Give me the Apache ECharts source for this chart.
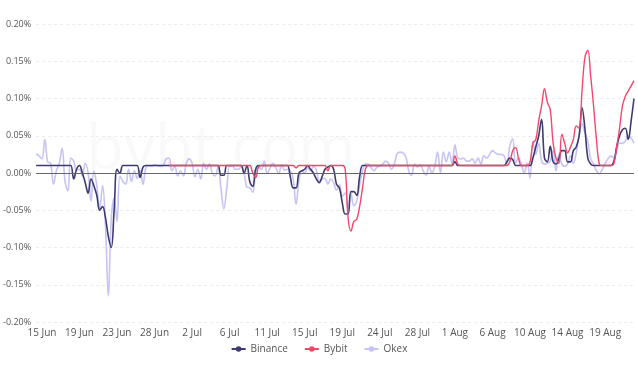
<!DOCTYPE html>
<html>
<head>
<meta charset="utf-8">
<script src="https://cdn.jsdelivr.net/npm/echarts@6/dist/echarts.min.js"></script>
<style>html,body{margin:0;padding:0;background:#fff}#chart{width:638px;height:365px}</style>
</head>
<body>
<div id="chart"></div>
<script>
// Funding rate (%) every 8 hours, first point 14 Jun 08:00
var startTime = Date.UTC(2021, 5, 14, 8, 0, 0);
var stepHours = 8;
var pointCount = 208;
var monthNames = ['Jan','Feb','Mar','Apr','May','Jun','Jul','Aug','Sep','Oct','Nov','Dec'];
var seriesNames = ['Binance', 'Bybit', 'Okex'];
var yTicks = [-0.20, -0.15, -0.10, -0.05, 0.00, 0.05, 0.10, 0.15, 0.20];

var binance = [
0.01,0.01,0.01,0.01,0.01,0.01,0.01,0.01,0.01,0.01,
0.01,0.01,0.01,-0.008,0.005,0.01,0.0,-0.013,-0.027,-0.008,
-0.017,-0.03,-0.05,-0.045,-0.06,-0.085,-0.1,-0.05,0.005,0.0,
0.01,0.01,0.01,0.01,0.01,0.01,-0.006,0.008,0.01,0.01,
0.01,0.01,0.01,0.01,0.01,0.01,0.01,0.01,0.01,0.01,
0.01,0.01,0.01,0.01,0.01,0.01,0.01,0.01,0.01,0.01,
0.01,0.01,0.01,0.01,-0.003,-0.003,0.01,0.01,0.01,0.01,
0.01,0.01,0.0,0.01,-0.012,-0.018,0.005,0.01,0.01,0.01,
0.01,0.01,0.01,0.01,0.01,0.01,0.01,0.01,-0.005,-0.02,
-0.02,0.0,0.003,0.005,0.01,0.005,0.0,-0.008,-0.013,-0.005,
0.005,0.008,0.01,0.005,-0.015,-0.02,-0.04,-0.055,-0.055,-0.025,
-0.025,-0.03,-0.005,0.01,0.01,0.01,0.01,0.01,0.01,0.01,
0.01,0.01,0.01,0.01,0.01,0.01,0.01,0.01,0.01,0.01,
0.01,0.01,0.01,0.01,0.01,0.01,0.01,0.01,0.01,0.01,
0.01,0.01,0.01,0.01,0.01,0.015,0.01,0.01,0.01,0.01,
0.01,0.01,0.01,0.01,0.01,0.01,0.01,0.01,0.01,0.01,
0.01,0.01,0.01,0.015,0.02,0.018,0.01,0.01,0.01,0.01,
0.01,0.01,0.02,0.035,0.05,0.072,0.02,0.015,0.036,0.015,
0.012,0.02,0.03,0.03,0.015,0.015,0.03,0.035,0.05,0.088,
0.06,0.02,0.012,0.01,0.01,0.01,0.01,0.01,0.01,0.01,
0.015,0.035,0.05,0.058,0.06,0.045,0.07,0.1
];

var bybit = [
null,null,null,null,null,null,null,null,null,null,
null,null,null,null,null,null,null,null,null,null,
null,null,null,null,null,null,null,null,null,null,
null,null,null,null,null,null,null,null,null,null,
null,null,null,null,null,null,0.01,0.01,0.01,0.01,
0.01,0.01,0.01,0.01,0.01,0.01,0.01,0.01,0.01,0.01,
0.01,0.01,0.01,0.01,0.01,0.01,0.01,0.01,0.01,0.01,
0.01,0.01,0.01,0.01,0.01,0.0,-0.006,0.008,0.01,0.01,
0.01,0.01,0.01,0.01,0.01,0.01,0.01,0.01,0.01,0.01,
0.007,0.01,0.01,0.01,0.01,0.01,0.01,0.01,0.01,0.01,
0.01,0.003,0.01,0.01,0.01,0.01,0.01,0.005,-0.06,-0.078,
-0.065,-0.062,-0.045,-0.02,0.005,0.01,0.01,0.01,0.01,0.01,
0.01,0.01,0.01,0.01,0.01,0.01,0.01,0.01,0.01,0.01,
0.01,0.01,0.01,0.01,0.01,0.01,0.01,0.01,0.01,0.01,
0.01,0.01,0.01,0.01,0.01,0.023,0.012,0.01,0.01,0.01,
0.01,0.01,0.01,0.01,0.01,0.01,0.01,0.01,0.01,0.01,
0.01,0.01,0.01,0.01,0.015,0.03,0.034,0.02,0.01,0.01,
0.01,0.015,0.04,0.045,0.07,0.09,0.113,0.095,0.085,0.04,
0.02,0.013,0.052,0.04,0.027,0.035,0.045,0.063,0.06,0.11,
0.155,0.165,0.13,0.09,0.045,0.012,0.01,0.01,0.01,0.01,
0.012,0.035,0.06,0.09,0.103,0.11,0.117,0.124
];

var okex = [
0.0255,0.023,0.019,0.045,0.015,0.013,-0.015,0.003,0.013,0.033,
-0.011,-0.024,0.02,0.016,0.003,0.005,-0.004,0.013,0.0,-0.038,
0.003,-0.017,-0.048,-0.017,-0.07,-0.165,-0.062,-0.034,-0.065,-0.004,
-0.011,-0.015,0.005,-0.011,0.003,-0.007,0.003,-0.015,0.007,0.01,
0.009,0.011,0.01,0.009,0.01,0.019,0.02,0.003,0.009,-0.004,
0.003,-0.004,0.013,0.019,0.013,-0.005,0.005,-0.008,0.013,0.005,
0.012,0.0,-0.004,0.009,-0.021,-0.048,-0.021,0.009,0.009,0.005,
0.005,0.008,-0.001,-0.019,-0.02,-0.026,0.0,0.008,0.005,0.016,
-0.001,0.007,0.013,0.007,-0.001,0.011,0.004,0.005,0.003,-0.008,
-0.042,-0.01,0.003,0.0,0.007,0.003,0.009,0.004,-0.011,-0.008,
-0.007,-0.015,-0.008,-0.013,-0.023,-0.016,-0.031,-0.027,-0.048,-0.027,
-0.044,-0.038,-0.017,0.003,0.012,0.012,0.007,0.003,0.008,0.009,
0.012,0.016,0.013,0.005,0.012,0.026,0.028,0.027,0.022,0.003,
-0.003,0.012,0.008,0.011,0.003,-0.003,0.009,0.0,0.009,0.028,
0.0,0.028,0.015,0.028,0.012,0.038,0.02,0.019,0.02,0.016,
0.016,0.019,0.013,0.02,0.012,0.023,0.02,0.025,0.03,0.027,
0.025,0.025,0.023,0.013,0.036,0.046,0.013,0.02,0.012,0.0,
0.013,-0.007,0.043,0.025,0.04,0.016,0.012,0.013,0.016,0.03,
0.003,0.025,0.012,0.009,0.012,0.023,0.013,0.027,0.05,0.066,
0.054,0.043,0.019,0.012,0.003,-0.001,0.005,0.013,0.019,0.023,
0.02,0.03,0.04,0.04,0.043,0.05,0.047,0.04
];

var categories = [];
for (var i = 0; i < pointCount; i++) {
  var d = new Date(startTime + i * stepHours * 3600 * 1000);
  categories.push(d.getUTCDate() + ' ' + monthNames[d.getUTCMonth()] + ' ' + ('0' + d.getUTCHours()).slice(-2) + ':00');
}

var chart = echarts.init(document.getElementById('chart'), null, {renderer: 'canvas'});
var font = '"Open Sans", "Noto Sans", sans-serif';
chart.setOption({
  animation: false,
  backgroundColor: '#ffffff',
  textStyle: {fontFamily: font},
  grid: {left: 33, right: 4, top: 24, bottom: 43, containLabel: false},
  graphic: [{
    type: 'text', left: 86, top: 120, z: -10, silent: true,
    style: {text: 'bybt.com', fontSize: 62, fontWeight: 'normal', fontFamily: font, fill: 'rgba(0,0,0,0.022)'}
  }],
  legend: {
    data: seriesNames, bottom: 6, left: 'center', itemGap: 16, itemWidth: 14, itemHeight: 7,
    textStyle: {fontSize: 10, color: '#555', fontFamily: font}
  },
  xAxis: {
    type: 'category', data: categories, boundaryGap: false,
    axisLine: {show: false}, axisTick: {show: false}, splitLine: {show: false},
    axisLabel: {
      interval: function (idx) { return idx % 13 === 2; },
      formatter: function (v) { return v.split(' ').slice(0, 2).join(' '); },
      color: '#555', fontSize: 10, margin: 6, fontFamily: font
    }
  },
  yAxis: {
    type: 'value', min: yTicks[0], max: yTicks[yTicks.length - 1], interval: 0.05,
    axisLine: {show: false}, axisTick: {show: false},
    splitLine: {show: true, lineStyle: {color: '#ebebeb', type: [3, 3], width: 1}},
    axisLabel: {formatter: function (v) { return v.toFixed(2) + '%'; }, color: '#555', fontSize: 9, margin: 5, fontFamily: font}
  },
  series: [
    {
      name: 'Binance', type: 'line', data: binance, smooth: 0.4, showSymbol: false, symbol: 'circle', symbolSize: 5, z: 3,
      color: '#3d3a70', lineStyle: {width: 1.6, color: '#3d3a70'},
      markLine: {silent: true, symbol: 'none', label: {show: false}, animation: false,
        lineStyle: {color: '#666', type: 'solid', width: 1}, data: [{yAxis: 0}]}
    },
    {
      name: 'Bybit', type: 'line', data: bybit, smooth: 0.4, showSymbol: false, symbol: 'circle', symbolSize: 5, z: 4,
      color: '#f2476a', lineStyle: {width: 1.4, color: '#f2476a'}
    },
    {
      name: 'Okex', type: 'line', data: okex, smooth: 0.4, showSymbol: false, symbol: 'circle', symbolSize: 5, z: 2,
      color: '#c7c3f4', lineStyle: {width: 1.6, color: '#c7c3f4'}
    }
  ]
});
</script>
</body>
</html>
